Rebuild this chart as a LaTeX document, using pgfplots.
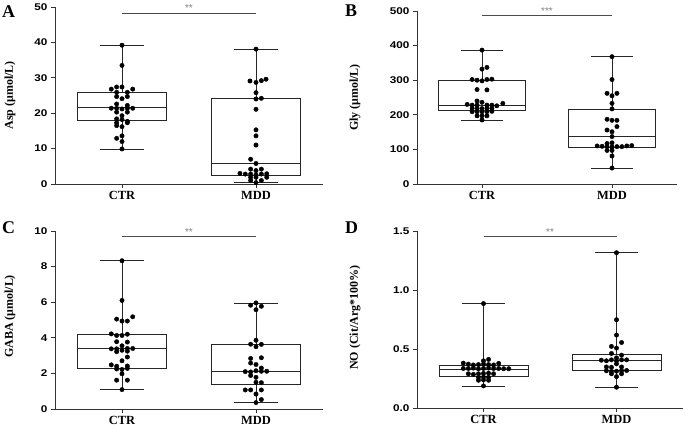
\documentclass[border=0pt]{standalone}
\usepackage{pgfplots}
\pgfplotsset{compat=1.18}
\usepackage{fontspec}
\setmainfont{Liberation Serif}
\setsansfont{Liberation Sans}
\newfontfamily\tickfont{Liberation Sans}[FakeStretch=1.2]

\pgfplotsset{
 panel/.style={
  scale only axis,
  axis x line*=bottom, axis y line*=left,
  xmin=-0.5, xmax=1.5,
  xtick={0,1}, xticklabels={CTR,MDD},
  tick align=outside,
  major tick length=4bp,
  minor tick num=0,
  axis line style={draw=black!80, line width=0.8bp},
  tick style={black!80, line width=0.8bp},
  xticklabel style={font=\fontsize{12.5}{14}\selectfont\bfseries},
  yticklabel style={font=\fontsize{9.8}{12}\selectfont\tickfont\bfseries},
  /pgf/number format/assume math mode=true,
  ylabel style={font=\fontsize{12}{14}\selectfont\bfseries, anchor=center},
  clip=false,
 },
 bx/.style={black!85, line width=0.8bp, solid, mark=none, fill=none},
 pts/.style={only marks, mark=*, mark size=2.2bp, black},
 sig/.style={black!70, line width=0.7bp},
}
\tikzset{
 stars/.style={font=\fontsize{10}{12}\selectfont\sffamily, text=black!50, anchor=south, inner sep=1bp},
 lett/.style={font=\fontsize{18}{20}\selectfont\bfseries, anchor=base west, inner sep=0pt},
}

\begin{document}
\begin{tikzpicture}
\useasboundingbox (0,0) rectangle (685bp,434bp);

% ---------------- A ----------------
\begin{axis}[panel, at={(55bp,250bp)}, anchor=south west, width=268bp, height=177bp,
  ymin=0, ymax=50, ytick={0,10,20,30,40,50},
  ylabel={Asp (μmol/L)}, ylabel style={at={(axis description cs:-0.168,0.5)}}]
% CTR box (9.9, 17.9, 21.5, 25.9, 39.2)
\addplot[bx] coordinates {(-0.335,17.9)(0.335,17.9)(0.335,25.9)(-0.335,25.9)(-0.335,17.9)};
\addplot[bx] coordinates {(-0.335,21.5)(0.335,21.5)};
\addplot[bx] coordinates {(0,25.9)(0,39.2)};
\addplot[bx] coordinates {(-0.165,39.2)(0.165,39.2)};
\addplot[bx] coordinates {(0,17.9)(0,9.9)};
\addplot[bx] coordinates {(-0.165,9.9)(0.165,9.9)};
% MDD box (0.5, 2.5, 5.7, 24.2, 38.1)
\addplot[bx] coordinates {(0.665,2.5)(1.335,2.5)(1.335,24.2)(0.665,24.2)(0.665,2.5)};
\addplot[bx] coordinates {(0.665,5.7)(1.335,5.7)};
\addplot[bx] coordinates {(1,24.2)(1,38.1)};
\addplot[bx] coordinates {(0.835,38.1)(1.165,38.1)};
\addplot[bx] coordinates {(1,2.5)(1,0.5)};
\addplot[bx] coordinates {(0.835,0.5)(1.165,0.5)};
\addplot[pts] coordinates {(0,39.2)(0,33.5)(-0.04,27.4)(0,27.4)(-0.08,26.8)(0.08,26.8)(-0.04,25.9)(0.04,25.9)(-0.04,24.7)(0.04,24.7)(0,24.1)(-0.04,22.6)(0.04,22.2)(-0.08,21.4)(-0.04,21.4)(0,21.2)(0.04,21.4)(0.08,21.4)(-0.04,20.3)(0.04,20.3)(0,19.3)(-0.04,18.4)(0,18.2)(-0.04,17.3)(0.04,17.3)(0.04,17.7)(-0.04,16.5)(0,16.2)(0,13.6)(-0.04,12.9)(0,12.0)(0,9.9)};
\addplot[pts] coordinates {(1,38.1)(0.955,29.1)(1,28.7)(1.04,29.2)(1.075,29.6)(1,25.8)(1,24.0)(1.04,24.2)(1,21.1)(1,15.3)(1,13.6)(1,11.0)(0.96,7.0)(1,5.8)(0.96,4.2)(1,3.8)(1.04,4.2)(0.88,3.0)(0.92,2.8)(0.96,2.8)(1,2.6)(1.04,2.8)(1.08,2.9)(0.96,1.9)(1,1.9)(1.08,1.9)(0.96,1.0)(1.04,1.0)(1,0.4)};
\addplot[sig] coordinates {(0,48.3)(1,48.3)};
\node[stars] at (axis cs:0.5,48.3) {**};
\end{axis}

% ---------------- B ----------------
\begin{axis}[panel, at={(417bp,250bp)}, anchor=south west, width=260bp, height=173bp,
  ymin=0, ymax=500, ytick={0,100,200,300,400,500},
  ylabel={Gly (μmol/L)}, ylabel style={at={(axis description cs:-0.238,0.5)}}]
% CTR box (185, 212, 227, 298, 387)
\addplot[bx] coordinates {(-0.335,212)(0.335,212)(0.335,298)(-0.335,298)(-0.335,212)};
\addplot[bx] coordinates {(-0.335,227)(0.335,227)};
\addplot[bx] coordinates {(0,298)(0,387)};
\addplot[bx] coordinates {(-0.165,387)(0.165,387)};
\addplot[bx] coordinates {(0,212)(0,185)};
\addplot[bx] coordinates {(-0.165,185)(0.165,185)};
% MDD box (46, 106, 137, 217, 368)
\addplot[bx] coordinates {(0.665,106)(1.335,106)(1.335,217)(0.665,217)(0.665,106)};
\addplot[bx] coordinates {(0.665,137)(1.335,137)};
\addplot[bx] coordinates {(1,217)(1,368)};
\addplot[bx] coordinates {(0.835,368)(1.165,368)};
\addplot[bx] coordinates {(1,106)(1,46)};
\addplot[bx] coordinates {(0.835,46)(1.165,46)};
\addplot[pts] coordinates {(0,387)(0,332)(0.038,337)(-0.076,302)(-0.038,300)(0,298)(0.038,302)(0.076,303)(-0.038,273)(0.038,272)(-0.038,240)(0,236)(-0.114,230)(-0.076,228)(-0.038,228)(0.038,228)(0.076,228)(0.114,226)(0.16,233)(-0.076,219)(-0.038,219)(0,218)(0.038,219)(0.076,219)(-0.076,209)(-0.038,209)(0,209)(0.038,209)(0.076,210)(-0.038,197)(0,197)(0.038,197)(0,185)};
\addplot[pts] coordinates {(1,368)(1,302)(0.962,262)(1,255)(1.038,262)(1,233)(1,217)(0.962,187)(1,184)(1.038,184)(0.962,156)(1,151)(1.038,166)(1,137)(0.962,117)(1,119)(0.886,110)(0.924,109)(0.962,108)(1,107)(1.038,108)(1.076,108)(1.114,110)(1.152,111)(0.962,97)(1,97)(1,81)(1,46)};
\addplot[sig] coordinates {(0,486)(1,486)};
\node[stars] at (axis cs:0.5,486) {***};
\end{axis}

% ---------------- C ----------------
\begin{axis}[panel, at={(55bp,25bp)}, anchor=south west, width=268bp, height=178bp,
  ymin=0, ymax=10, ytick={0,2,4,6,8,10},
  ylabel={GABA (μmol/L)}, ylabel style={at={(axis description cs:-0.168,0.52)}}]
% CTR box (1.09, 2.29, 3.38, 4.19, 8.33)
\addplot[bx] coordinates {(-0.335,2.29)(0.335,2.29)(0.335,4.19)(-0.335,4.19)(-0.335,2.29)};
\addplot[bx] coordinates {(-0.335,3.38)(0.335,3.38)};
\addplot[bx] coordinates {(0,4.19)(0,8.33)};
\addplot[bx] coordinates {(-0.165,8.33)(0.165,8.33)};
\addplot[bx] coordinates {(0,2.29)(0,1.09)};
\addplot[bx] coordinates {(-0.165,1.09)(0.165,1.09)};
% MDD box (0.36, 1.41, 2.12, 3.61, 5.96)
\addplot[bx] coordinates {(0.665,1.41)(1.335,1.41)(1.335,3.61)(0.665,3.61)(0.665,1.41)};
\addplot[bx] coordinates {(0.665,2.12)(1.335,2.12)};
\addplot[bx] coordinates {(1,3.61)(1,5.96)};
\addplot[bx] coordinates {(0.835,5.96)(1.165,5.96)};
\addplot[bx] coordinates {(1,1.41)(1,0.36)};
\addplot[bx] coordinates {(0.835,0.36)(1.165,0.36)};
\addplot[pts] coordinates {(0,8.33)(0,6.1)(-0.04,5.05)(0,4.94)(0.04,4.94)(0.08,5.18)(-0.08,4.22)(-0.04,4.13)(0,4.13)(0.04,4.2)(-0.04,3.78)(0.04,3.76)(0,3.55)(-0.08,3.38)(-0.04,3.38)(0,3.3)(0.04,3.4)(0.08,3.4)(-0.04,3.22)(0.04,3.25)(0.04,2.92)(0,2.71)(-0.08,2.48)(-0.04,2.4)(0.04,2.42)(-0.04,2.25)(0,2.22)(0.04,2.28)(0,1.98)(-0.04,1.62)(0.04,1.62)(0,1.09)};
\addplot[pts] coordinates {(1,5.96)(0.96,5.83)(1.04,5.77)(1,5.58)(1,3.86)(0.96,3.64)(1.04,3.63)(1,3.5)(0.96,2.84)(1.04,2.88)(0.96,2.58)(1,2.5)(1.04,2.3)(0.92,2.1)(0.96,2.08)(1,2.15)(1.04,2.12)(1.08,2.12)(0.96,1.88)(1,1.78)(1,1.5)(1.04,1.48)(0.92,1.07)(0.96,1.07)(1.04,1.07)(1,0.84)(1.04,0.53)(1,0.36)};
\addplot[sig] coordinates {(0,9.7)(1,9.7)};
\node[stars] at (axis cs:0.5,9.7) {**};
\end{axis}

% ---------------- D ----------------
\begin{axis}[panel, at={(417bp,26bp)}, anchor=south west, width=266bp, height=177bp,
  ymin=0, ymax=1.5, ytick={0,0.5,1,1.5},
  yticklabel style={/pgf/number format/.cd, fixed, fixed zerofill, precision=1},
  ylabel={NO (Cit/Arg*100\%)}, ylabel style={at={(axis description cs:-0.233,0.51)}}]
% CTR box (0.184, 0.267, 0.326, 0.36, 0.885)
\addplot[bx] coordinates {(-0.335,0.267)(0.335,0.267)(0.335,0.36)(-0.335,0.36)(-0.335,0.267)};
\addplot[bx] coordinates {(-0.335,0.326)(0.335,0.326)};
\addplot[bx] coordinates {(0,0.36)(0,0.885)};
\addplot[bx] coordinates {(-0.165,0.885)(0.165,0.885)};
\addplot[bx] coordinates {(0,0.267)(0,0.184)};
\addplot[bx] coordinates {(-0.165,0.184)(0.165,0.184)};
% MDD box (0.176, 0.318, 0.403, 0.454, 1.316)
\addplot[bx] coordinates {(0.665,0.318)(1.335,0.318)(1.335,0.454)(0.665,0.454)(0.665,0.318)};
\addplot[bx] coordinates {(0.665,0.403)(1.335,0.403)};
\addplot[bx] coordinates {(1,0.454)(1,1.316)};
\addplot[bx] coordinates {(0.835,1.316)(1.165,1.316)};
\addplot[bx] coordinates {(1,0.318)(1,0.176)};
\addplot[bx] coordinates {(0.835,0.176)(1.165,0.176)};
\addplot[pts] coordinates {(0,0.885)(0,0.400)(0.038,0.412)(-0.152,0.38)(-0.114,0.372)(-0.076,0.365)(-0.038,0.368)(0,0.372)(0.038,0.368)(0.076,0.365)(0.114,0.378)(-0.152,0.335)(-0.114,0.335)(-0.076,0.338)(-0.038,0.332)(0,0.335)(0.038,0.338)(0.076,0.335)(0.114,0.335)(0.152,0.333)(0.19,0.333)(-0.114,0.29)(-0.076,0.285)(-0.038,0.29)(0,0.293)(0.038,0.295)(0.076,0.29)(-0.038,0.26)(0,0.262)(0.038,0.26)(-0.038,0.235)(0,0.238)(0.038,0.235)(0,0.187)};
\addplot[pts] coordinates {(1,1.316)(1,0.748)(1,0.618)(1.038,0.555)(0.962,0.522)(1,0.508)(0.962,0.462)(1.038,0.448)(1,0.425)(0.886,0.405)(0.924,0.4)(0.962,0.408)(1,0.4)(1.038,0.408)(1.076,0.408)(1,0.374)(0.924,0.348)(0.962,0.345)(1.038,0.348)(0.924,0.315)(0.962,0.31)(1,0.312)(1.038,0.316)(1.076,0.318)(0.962,0.29)(1.038,0.29)(1,0.266)(1,0.176)};
\addplot[sig] coordinates {(0,1.455)(1,1.455)};
\node[stars] at (axis cs:0.5,1.455) {**};
\end{axis}

\node[lett] at (2bp,416bp) {A};
\node[lett] at (345bp,417bp) {B};
\node[lett] at (2bp,200bp) {C};
\node[lett] at (345bp,200bp) {D};
\end{tikzpicture}
\end{document}
